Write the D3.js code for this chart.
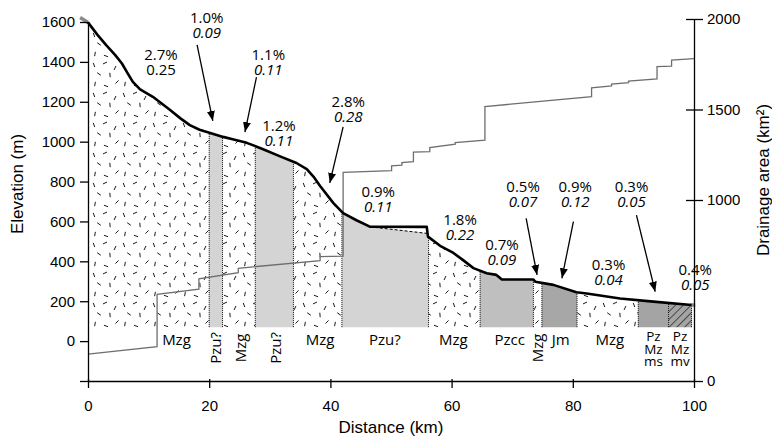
<!DOCTYPE html>
<html>
<head>
<meta charset="utf-8">
<script src="https://cdn.jsdelivr.net/npm/d3@7"></script>
<style>
body{margin:0;background:#fff;}
svg{display:block;}
.axis text{font-family:"Liberation Sans",Arial,sans-serif;font-size:15px;fill:#000;}
.axis path,.axis line{stroke:#000;stroke-width:1.3;}
.title{font-family:"Liberation Sans",Arial,sans-serif;font-size:17px;fill:#000;}
.note{font-family:"Open Sans",sans-serif;font-size:15px;fill:#000;}
.unit{font-family:"Open Sans",sans-serif;font-size:15px;fill:#000;}
</style>
</head>
<body>
<div id="chart"></div>
<script>
// river long profile, [distance km, elevation m]
var profile = [
  [0,1598],[1.5,1538],[3,1484],[4.5,1434],[5.6,1392],[6.5,1345],[7.4,1300],[8.6,1262],
  [10.7,1225],[13.5,1160],[15.2,1118],[16.8,1083],[18.4,1060],[20.3,1042],[22.3,1024],
  [24.2,1010],[26.2,994],[28.9,962],[31.7,926],[34.4,893],[36.1,862],[37.2,825],[38.3,778],
  [40.5,692],[42.1,642],[44.3,606],[46.5,574],[55.9,573],[56.1,524],[58.1,478],[60.3,442],
  [61.9,406],[63.6,366],[65.8,340],[67.4,332],[68.3,309],[73.5,309],[73.8,298],[76.8,282],
  [80.6,245],[82.3,239],[87.8,214],[93.3,198],[99.6,181]
];
// dashed bedrock top inside the flat reach
var dashedTop = [[46.5,573],[56.0,540]];
// grey end caps of the profile
var profileStart = [[-1.3,1622],[0,1598]];
var profileEnd = [[99.4,181],[100.2,181]];

// drainage area, [distance km, km2] (stepped)
var drainage = [
  [0,149],[11.4,190],[11.4,479],[18.3,507],[18.3,565],[24.8,598],[24.8,623],[38.3,665],
  [38.3,687],[42.1,690],[42.1,1153],[50.1,1162],[50.1,1189],[51.8,1192],[51.8,1206],
  [53.7,1212],[53.7,1264],[56.4,1267],[56.4,1289],[60.6,1308],[60.6,1317],[65.5,1331],
  [65.5,1516],[83.1,1571],[83.1,1620],[86.4,1630],[86.4,1641],[89.2,1648],[89.2,1657],
  [93.9,1669],[93.9,1737],[96.3,1740],[96.3,1773],[100,1781]
];

// bedrock units along the channel
var blockEdges = [0,20.0,22.2,27.6,33.9,41.9,56.2,64.7,73.5,74.9,80.7,90.8,95.8,99.6];
var blockUnits = ["Mzg","Pzu?","Mzg","Pzu?","Mzg","Pzu?","Mzg","Pzcc","Mzg","Jm","Mzg","Pz Mz ms","Pz Mz mv"];
var baseElev = 70;

// reach gradients
var gradPct = ["2.7%","1.0%","1.1%","1.2%","2.8%","0.9%","1.8%","0.7%","0.5%","0.9%","0.3%","0.3%","0.4%"];
var gradVal = ["0.25","0.09","0.11","0.11","0.28","0.11","0.22","0.09","0.07","0.12","0.04","0.05","0.05"];

var xTicks = [0,20,40,60,80,100];
var yTicks = [-200,0,200,400,600,800,1000,1200,1400,1600];
var areaTicks = [0,1000,1500,2000];

// ---- layout ----
var width = 772, height = 437;
var x = d3.scaleLinear().domain([0,100]).range([88,694]);
var y = d3.scaleLinear().domain([-200,1600]).range([381,22]);
var yA = d3.scaleLinear().domain([0,2000]).range([381,19]);

var unitFill = {"Mzg":"url(#mzg)","Pzu?":"#d4d4d4","Pzcc":"#bfbfbf","Jm":"#a7a7a7",
                "Pz Mz ms":"#a4a4a4","Pz Mz mv":"url(#hatch)"};
// label placement: km, rotated
var unitLabelKm = [14.6,21.1,25.3,31.1,38.3,49.0,60.3,69.6,74.2,78.0,86.1,93.3,97.7];
var unitLabelRot = [0,1,1,1,0,0,0,0,1,0,0,0,0];

// gradient labels: anchor [km, m] and arrows [[tail],[tip]]
var noteAt = [[12.05,1410],[19.6,1595],[29.75,1410],[31.5,1054],[42.95,1175],[47.9,724],
              [61.4,582],[68.3,457],[71.8,749],[80.4,749],[85.9,357],[89.7,749],[100.2,332]];
var noteArrow = {1:[[18.0,1485],[20.6,1104]], 2:[[27.8,1324],[25.9,1048]],
                 4:[[42.1,1074],[39.9,793]], 8:[[72.3,616],[74.1,332]],
                 9:[[80.1,599],[78.2,315]], 11:[[90.5,632],[93.6,248]]};

var svg = d3.select("#chart").append("svg")
  .attr("width", width).attr("height", height);

var defs = svg.append("defs");
// granite symbol: short dashes at mixed angles
var granDashes = [[4,5,70],[15,3,-25],[25,8,115],[9,14,35],[20,15,85],[27,22,-45],[5,24,100],[16,26,20]];
var pat = defs.append("pattern").attr("id","mzg").attr("patternUnits","userSpaceOnUse")
  .attr("width",30).attr("height",30);
pat.append("rect").attr("width",30).attr("height",30).attr("fill","#fff");
granDashes.forEach(function(d){
  var a = d[2]*Math.PI/180, dx = 2.2*Math.cos(a), dy = 2.2*Math.sin(a);
  pat.append("line").attr("x1",d[0]-dx).attr("y1",d[1]-dy).attr("x2",d[0]+dx).attr("y2",d[1]+dy)
    .attr("stroke","#000").attr("stroke-width",0.9);
});
var hatch = defs.append("pattern").attr("id","hatch").attr("patternUnits","userSpaceOnUse")
  .attr("width",5.5).attr("height",5.5).attr("patternTransform","rotate(45)");
hatch.append("rect").attr("width",5.5).attr("height",5.5).attr("fill","#a4a4a4");
hatch.append("line").attr("x1",0).attr("y1",0).attr("x2",0).attr("y2",5.5)
  .attr("stroke","#000").attr("stroke-width",1.1);
defs.append("marker").attr("id","arrow").attr("markerUnits","userSpaceOnUse")
  .attr("markerWidth",10).attr("markerHeight",8).attr("refX",10).attr("refY",4)
  .attr("orient","auto")
  .append("path").attr("d","M0,0 L10,4 L0,8 Z").attr("fill","#000");

// top of bedrock fill at a distance
function interp(arr, k){
  for (var i=1;i<arr.length;i++){
    if (k <= arr[i][0]){
      var a = arr[i-1], b = arr[i];
      if (b[0]===a[0]) return b[1];
      return a[1] + (b[1]-a[1])*(k-a[0])/(b[0]-a[0]);
    }
  }
  return arr[arr.length-1][1];
}
function topAt(k){
  var p = interp(profile,k);
  if (k>=dashedTop[0][0] && k<=dashedTop[dashedTop.length-1][0]) return Math.min(p, interp(dashedTop,k));
  return p;
}

var area = d3.area().x(function(d){return x(d[0]);})
  .y0(y(baseElev)).y1(function(d){return y(d[1]);});

var blocks = blockUnits.map(function(u,i){
  var k0 = blockEdges[i], k1 = blockEdges[i+1];
  var ks = [k0,k1];
  profile.concat(dashedTop).forEach(function(p){ if (p[0]>k0 && p[0]<k1) ks.push(p[0]); });
  ks.sort(function(a,b){return a-b;});
  return {unit:u, pts: ks.map(function(k){return [k, topAt(k)];})};
});

svg.append("g").selectAll("path").data(blocks).enter().append("path")
  .attr("d", function(d){return area(d.pts);})
  .attr("fill", function(d){return unitFill[d.unit];})
  .attr("stroke","none");

// dotted unit contacts
svg.append("g").selectAll("line").data(blockEdges.slice(1)).enter().append("line")
  .attr("x1", function(d){return x(d);}).attr("x2", function(d){return x(d);})
  .attr("y1", y(baseElev)).attr("y2", function(d){return y(topAt(d));})
  .attr("stroke","#000").attr("stroke-width",1).attr("stroke-dasharray","1,1");

var line = d3.line().x(function(d){return x(d[0]);}).y(function(d){return y(d[1]);});
svg.append("path").attr("d", line(dashedTop)).attr("fill","none")
  .attr("stroke","#000").attr("stroke-width",1).attr("stroke-dasharray","3,2");

// drainage area
svg.append("path")
  .attr("d", d3.line().x(function(d){return x(d[0]);}).y(function(d){return yA(d[1]);})(drainage))
  .attr("fill","none").attr("stroke","#6e6e6e").attr("stroke-width",1.3);

// profile
svg.append("path").attr("d", line(profileStart)).attr("fill","none")
  .attr("stroke","#888").attr("stroke-width",3.5);
svg.append("path").attr("d", line(profileEnd)).attr("fill","none")
  .attr("stroke","#888").attr("stroke-width",3.5);
svg.append("path").attr("d", line(profile)).attr("fill","none")
  .attr("stroke","#000").attr("stroke-width",2.6).attr("stroke-linejoin","round");

// axes
var gx = svg.append("g").attr("class","axis").attr("transform","translate(0,381)")
  .call(d3.axisBottom(x).tickValues(xTicks).tickSize(7).tickPadding(12).tickSizeOuter(0));
gx.selectAll(".tick line").attr("y1",-2);

svg.append("g").attr("class","axis").attr("transform","translate(88,0)")
  .call(d3.axisLeft(y).tickValues(yTicks).tickSize(8).tickPadding(5).tickSizeOuter(0)
    .tickFormat(function(d){return d<0 ? "" : d;}));

var gr = svg.append("g").attr("class","axis").attr("transform","translate(694,0)")
  .call(d3.axisRight(yA).tickValues(areaTicks).tickSize(9).tickPadding(4).tickSizeOuter(0)
    .tickFormat(d3.format("d")));
gr.selectAll(".tick line").attr("x1", function(d){return d===0 ? 0 : -8;});

// axis titles
svg.append("text").attr("class","title").attr("text-anchor","middle")
  .attr("transform","translate(23,184) rotate(-90)").text("Elevation (m)");
svg.append("text").attr("class","title").attr("text-anchor","middle")
  .attr("transform","translate(769,180) rotate(-90)").text("Drainage area (km\u00b2)");
svg.append("text").attr("class","title").attr("text-anchor","middle")
  .attr("x",391).attr("y",433).text("Distance (km)");

// unit labels
blockUnits.forEach(function(u,i){
  var cx = x(unitLabelKm[i]);
  var parts = u.split(" ");
  if (unitLabelRot[i]){
    svg.append("text").attr("class","unit").attr("text-anchor","middle")
      .attr("transform","translate("+(cx+5)+",348) rotate(-90)").text(u);
  } else if (parts.length>1){
    var t = svg.append("text").attr("class","unit").attr("text-anchor","middle")
      .style("font-size","13.5px");
    parts.forEach(function(p,j){
      t.append("tspan").attr("x",cx).attr("y",341+j*12.5).text(p);
    });
  } else {
    svg.append("text").attr("class","unit").attr("text-anchor","middle")
      .attr("x",cx).attr("y",345).text(u);
  }
});

// gradient notes
gradPct.forEach(function(p,i){
  var nx = x(noteAt[i][0]), ny = y(noteAt[i][1]);
  var t = svg.append("text").attr("class","note").attr("text-anchor","middle");
  t.append("tspan").attr("x",nx).attr("y",ny).text(p);
  t.append("tspan").attr("x",nx).attr("y",ny+15)
    .style("font-style", i===0 ? "normal" : "italic").text(gradVal[i]);
  var a = noteArrow[i];
  if (a){
    svg.append("line").attr("x1",x(a[0][0])).attr("y1",y(a[0][1]))
      .attr("x2",x(a[1][0])).attr("y2",y(a[1][1]))
      .attr("stroke","#000").attr("stroke-width",1.3).attr("marker-end","url(#arrow)");
  }
});
</script>
</body>
</html>
